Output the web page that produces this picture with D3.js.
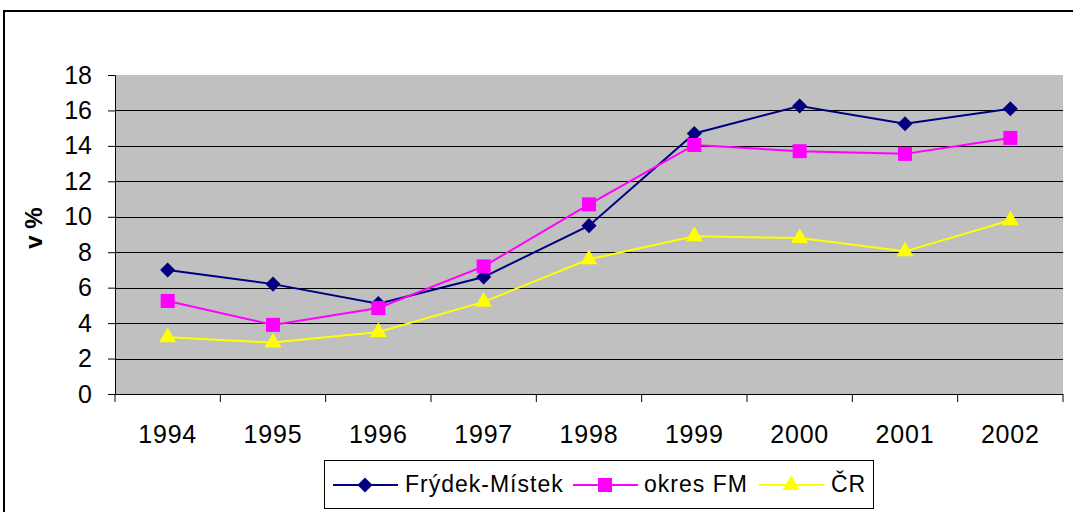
<!DOCTYPE html>
<html>
<head>
<meta charset="utf-8">
<script src="https://d3js.org/d3.v7.min.js"></script>
<style>
  body { margin: 0; background: #fff; }
  text { font-family: "Liberation Sans", Arial, sans-serif; }
</style>
</head>
<body>
<div class="graph"></div>
<script>
const years = ['1994', '1995', '1996', '1997', '1998', '1999', '2000', '2001', '2002'];
const frydekMistek = [7.0, 6.2, 5.1, 6.6, 9.5, 14.7, 16.25, 15.25, 16.1];
const okresFM = [5.25, 3.9, 4.85, 7.2, 10.7, 14.05, 13.7, 13.55, 14.45];
const cr = [3.2, 2.9, 3.5, 5.2, 7.6, 8.9, 8.8, 8.05, 9.8];
const yTicks = [0, 2, 4, 6, 8, 10, 12, 14, 16, 18];

const series = [
    { name: 'Frýdek-Místek', values: frydekMistek, colour: '#000080', symbol: d3.symbolDiamond2, size: 145 },
    { name: 'okres FM', values: okresFM, colour: '#ff00ff', symbol: d3.symbolSquare, size: 196 },
    { name: 'ČR', values: cr, colour: '#ffff00', symbol: d3.symbolTriangle, size: 125 }
];

const width = 1073, height = 512;
const plot = { left: 115, right: 1063, top: 75, bottom: 394 };

const x = d3.scaleBand().domain(years).range([plot.left, plot.right]);
const y = d3.scaleLinear().domain([0, 18]).range([plot.bottom, plot.top]);

const svg = d3.select('.graph').append('svg')
    .attr('width', width)
    .attr('height', height);

// outer chart frame
svg.append('rect')
    .attr('x', 4).attr('y', 11)
    .attr('width', 1080).attr('height', 520)
    .attr('fill', '#fff')
    .attr('stroke', '#000')
    .attr('stroke-width', 2);

// plot area
svg.append('rect')
    .attr('x', plot.left).attr('y', plot.top)
    .attr('width', plot.right - plot.left).attr('height', plot.bottom - plot.top)
    .attr('fill', '#c0c0c0');

// gridlines
svg.append('g')
    .selectAll('line')
    .data(yTicks.filter(t => t > 0 && t < 18))
    .enter()
    .append('line')
    .attr('x1', plot.left).attr('x2', plot.right)
    .attr('y1', d => Math.round(y(d)) + 0.5)
    .attr('y2', d => Math.round(y(d)) + 0.5)
    .attr('stroke', '#000')
    .attr('stroke-width', 1);

// y axis
const yAxis = d3.axisLeft(y).tickValues(yTicks).tickSize(7).tickPadding(16);
const gy = svg.append('g')
    .attr('transform', `translate(${plot.left},0)`)
    .call(yAxis);
gy.selectAll('text')
    .attr('font-size', 25)
    .attr('fill', '#000')
    .style('font-family', '"Liberation Sans", Arial, sans-serif');
gy.selectAll('line, path').attr('stroke', '#000');

// x axis with ticks between categories
const gx = svg.append('g')
    .attr('transform', `translate(0,${plot.bottom})`);
gx.append('line')
    .attr('x1', plot.left - 7).attr('x2', plot.right)
    .attr('y1', 0.5).attr('y2', 0.5)
    .attr('stroke', '#000');
gx.selectAll('.tk')
    .data(years.concat(['end']))
    .enter()
    .append('line')
    .attr('class', 'tk')
    .attr('x1', (d, i) => plot.left + i * x.step())
    .attr('x2', (d, i) => plot.left + i * x.step())
    .attr('y1', 0).attr('y2', 8)
    .attr('stroke', '#000');
gx.selectAll('.lbl')
    .data(years)
    .enter()
    .append('text')
    .attr('class', 'lbl')
    .attr('x', d => x(d) + x.bandwidth() / 2)
    .attr('y', 49)
    .attr('text-anchor', 'middle')
    .attr('font-size', 25)
    .attr('letter-spacing', 0.8)
    .text(d => d);

// y axis title
svg.append('text')
    .attr('transform', 'translate(42,228) rotate(-90)')
    .attr('text-anchor', 'middle')
    .attr('font-size', 24)
    .attr('font-weight', 'bold')
    .text('v %');

// lines and markers
const line = d3.line()
    .x((d, i) => x(years[i]) + x.bandwidth() / 2)
    .y(d => y(d));

series.forEach(s => {
    svg.append('path')
        .datum(s.values)
        .attr('d', line)
        .attr('fill', 'none')
        .attr('stroke', s.colour)
        .attr('stroke-width', 2);
    svg.append('g')
        .selectAll('path')
        .data(s.values)
        .enter()
        .append('path')
        .attr('transform', (d, i) => `translate(${x(years[i]) + x.bandwidth() / 2},${y(d)})`)
        .attr('d', d3.symbol().type(s.symbol).size(s.size))
        .attr('fill', s.colour);
});

// legend
const legend = svg.append('g');
legend.append('rect')
    .attr('x', 324.5).attr('y', 460.5)
    .attr('width', 549).attr('height', 48)
    .attr('fill', '#fff')
    .attr('stroke', '#000');

const legendItems = [
    { x0: 333, tx: 405 },
    { x0: 573, tx: 644 },
    { x0: 759, tx: 831 }
];
series.forEach((s, i) => {
    const it = legendItems[i];
    const g = legend.append('g');
    g.append('line')
        .attr('x1', it.x0).attr('x2', it.x0 + 65)
        .attr('y1', 485).attr('y2', 485)
        .attr('stroke', s.colour)
        .attr('stroke-width', 2);
    g.append('path')
        .attr('transform', `translate(${it.x0 + 32},485)`)
        .attr('d', d3.symbol().type(s.symbol).size(s.size))
        .attr('fill', s.colour);
    g.append('text')
        .attr('x', it.tx)
        .attr('y', 492)
        .attr('font-size', 23)
        .attr('letter-spacing', 1)
        .text(s.name);
});
</script>
</body>
</html>
